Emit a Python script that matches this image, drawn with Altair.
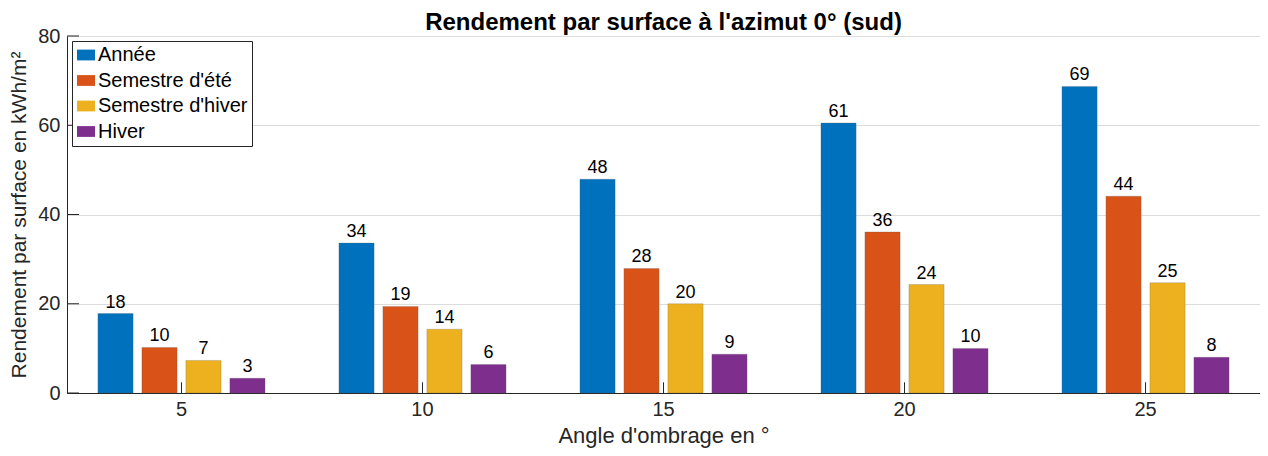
import altair as alt
import pandas as pd

angles = ["5", "10", "15", "20", "25"]
series = ["Année", "Semestre d'été", "Semestre d'hiver", "Hiver"]
annee = [17.8, 33.6, 47.9, 60.5, 68.7]
ete = [10.2, 19.4, 27.9, 36.1, 44.1]
hiver_sem = [7.3, 14.3, 20.0, 24.3, 24.7]
hiver = [3.3, 6.4, 8.7, 10.0, 8.0]
colors = ["#0072BD", "#D95319", "#EDB120", "#7E2F8E"]
y_ticks = [0, 20, 40, 60, 80]

rows = []
for s, vals in zip(series, [annee, ete, hiver_sem, hiver]):
    for a, v in zip(angles, vals):
        rows.append({"angle": a, "serie": s, "val": v})
df = pd.DataFrame(rows)
ticks_df = pd.DataFrame({"t": y_ticks})
xt_df = pd.DataFrame({"angle": angles})

FONT = "Liberation Sans"
TXT = "#262626"

x_enc = alt.X("angle:N", sort=angles,
              scale=alt.Scale(paddingInner=0.25, paddingOuter=0.1),
              axis=alt.Axis(title="Angle d'ombrage en °", labelAngle=0, tickSize=0,
                            labelPadding=6, titlePadding=6, grid=False))
y_scale = alt.Scale(domain=[0, 80], nice=False)

bars = alt.Chart(df).mark_bar(stroke="#555555", strokeWidth=0.4, strokeOpacity=0.6).encode(
    x=x_enc,
    xOffset=alt.XOffset("serie:N", sort=series,
                        scale=alt.Scale(paddingInner=0.2, paddingOuter=0.155)),
    y=alt.Y("val:Q", scale=y_scale,
            axis=alt.Axis(title="Rendement par surface en kWh/m²", values=y_ticks,
                          tickSize=0, labelPadding=7, titlePadding=8, titleFontSize=21,
                          gridColor="#dcdcdc", gridOpacity=1)),
    color=alt.Color("serie:N", sort=series,
                    scale=alt.Scale(domain=series, range=colors),
                    legend=alt.Legend(title=None, orient="top-left", offset=5,
                                      strokeColor=TXT, fillColor="white", padding=4,
                                      labelFontSize=20, labelFont=FONT, labelColor="black",
                                      symbolType="M-1,-0.6H1V0.6H-1Z", symbolSize=324,
                                      symbolStrokeWidth=0, symbolOpacity=1,
                                      rowPadding=5.5, labelOffset=2, labelLimit=300)),
)

labels = alt.Chart(df).mark_text(baseline="bottom", dy=-2, fontSize=18, font=FONT,
                                 color="black").encode(
    x=alt.X("angle:N", sort=angles),
    xOffset=alt.XOffset("serie:N", sort=series),
    y=alt.Y("val:Q"),
    text=alt.Text("val:Q", format=".0f"),
)

yticks = alt.Chart(ticks_df).mark_rule(color=TXT, strokeWidth=1).encode(
    y=alt.Y("t:Q"), x=alt.value(0), x2=alt.value(12))

xticks = alt.Chart(xt_df).mark_rule(color=TXT, strokeWidth=1).encode(
    x=alt.X("angle:N", sort=angles), y=alt.datum(0), y2=alt.datum(2.4))

chart = alt.layer(bars, labels, yticks, xticks).properties(
    width=1252, height=440,
    autosize=alt.AutoSizeParams(type="fit", contains="padding"),
    padding={"left": 0, "right": 0, "top": 3, "bottom": 2},
    title=alt.Title("Rendement par surface à l'azimut 0° (sud)", fontSize=24,
                    font=FONT, fontWeight="bold", color="black", offset=-9),
).configure_view(stroke=None).configure_axis(
    labelFont=FONT, titleFont=FONT, labelFontSize=20, titleFontSize=22,
    labelColor=TXT, titleColor=TXT, titleFontWeight="normal",
    domainColor=TXT, domainWidth=1,
).configure_axisX(grid=False)

chart.save("out.html", embed_options={"renderer": "svg", "actions": False})
